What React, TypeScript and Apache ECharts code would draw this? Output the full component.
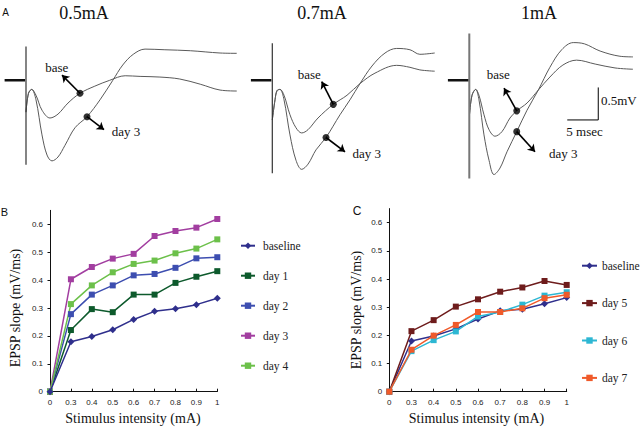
import React, { useEffect, useRef } from "react";
import * as echarts from "echarts";

// ---- Panel B / C data ----
const intensities = ["0", "0.3", "0.4", "0.5", "0.6", "0.7", "0.8", "0.9", "1"];
const baselineB = [0, 0.179, 0.198, 0.222, 0.259, 0.288, 0.297, 0.312, 0.335];
const day1 = [0, 0.221, 0.296, 0.285, 0.348, 0.348, 0.39, 0.412, 0.432];
const day2 = [0, 0.278, 0.348, 0.381, 0.417, 0.422, 0.444, 0.478, 0.482];
const day3 = [0, 0.403, 0.447, 0.477, 0.494, 0.558, 0.576, 0.588, 0.619];
const day4 = [0, 0.314, 0.381, 0.428, 0.458, 0.47, 0.496, 0.513, 0.546];
const baselineC = [0, 0.18, 0.198, 0.223, 0.258, 0.287, 0.293, 0.312, 0.334];
const day5 = [0, 0.215, 0.254, 0.302, 0.328, 0.355, 0.37, 0.393, 0.379];
const day6 = [0, 0.144, 0.183, 0.214, 0.267, 0.283, 0.309, 0.341, 0.353];
const day7 = [0, 0.149, 0.199, 0.237, 0.283, 0.283, 0.296, 0.332, 0.344];

// ---- Panel A traces: [time (ms), voltage (mV)] ----
const base05 = [[0, -0.49], [0.4, -0.2], [0.92, -0.14], [1.61, -0.23], [2.58, -0.46], [3.87, -0.58], [5.16, -0.52], [6.77, -0.35], [8.71, -0.2], [11.1, -0.09], [13.5, 0], [16.0, 0.07], [18.4, 0.06], [21.6, 0.05], [24.8, 0.02], [28.1, -0.06], [31.3, -0.15], [34.0, -0.165]];
const day3_05 = [[0, -0.49], [0.4, -0.2], [0.92, -0.14], [1.61, -0.3], [2.58, -0.84], [3.39, -1.15], [4.19, -1.24], [5.16, -1.18], [6.29, -1.0], [7.9, -0.73], [9.84, -0.56], [11.94, -0.3], [14.0, 0], [15.6, 0.235], [17.3, 0.4], [19.2, 0.48], [22.4, 0.47], [26.5, 0.455], [31.3, 0.42], [34.0, 0.415]];
const base07 = [[0, -0.61], [0.44, -0.3], [0.76, -0.16], [1.24, -0.14], [1.89, -0.23], [2.85, -0.53], [3.82, -0.73], [4.74, -0.81], [5.76, -0.76], [7.37, -0.58], [9.84, -0.37], [12.05, -0.23], [14.15, -0.05], [16.56, 0.11], [20.06, 0.23], [22.2, 0.2], [23.8, 0.16], [26.2, 0.14]];
const day3_07 = [[0, -0.61], [0.44, -0.3], [0.76, -0.16], [1.24, -0.14], [1.89, -0.3], [2.85, -0.84], [3.82, -1.23], [4.74, -1.37], [5.76, -1.29], [7.05, -1.07], [8.66, -0.88], [10.92, -0.53], [12.53, -0.3], [14.15, -0.05], [16.08, 0.22], [18.18, 0.42], [20.06, 0.49], [22.2, 0.47], [23.8, 0.4], [26.2, 0.42]];
const base1 = [[0.03, -0.53], [0.44, -0.23], [1.03, -0.14], [1.56, -0.23], [2.37, -0.53], [3.18, -0.76], [4.15, -0.86], [5.27, -0.79], [6.56, -0.58], [7.65, -0.47], [9.31, -0.35], [11.13, -0.15], [13.0, 0.05], [15.1, 0.235], [17.3, 0.31], [20.3, 0.25], [23.5, 0.19], [26.4, 0.17]];
const day3_1 = [[0.03, -0.53], [0.44, -0.23], [1.03, -0.14], [1.56, -0.3], [2.37, -0.84], [3.18, -1.23], [3.98, -1.45], [4.95, -1.35], [6.08, -1.1], [7.65, -0.79], [9.31, -0.46], [11.13, -0.15], [13.0, 0.2], [14.9, 0.47], [16.76, 0.58], [18.6, 0.56], [21.1, 0.45], [24.3, 0.37], [26.4, 0.36]];

// stimulus artifact [top mV, bottom mV] per panel; baseline marker [from ms, to ms]
const artifacts = [[0.52, -1.3], [0.57, -1.43], [0.72, -1.51]];
const baseMarker = [-3.45, -0.15];
// measurement dots [base dot, day3 dot] and arrow tips [base tip, day3 tip]
const dots05 = [[8.71, -0.2], [9.84, -0.56]];
const tips05 = [[5.81, 0.08], [12.58, -0.76]];
const dots07 = [[9.84, -0.37], [8.66, -0.88]];
const tips07 = [[7.97, -0.02], [11.73, -1.1]];
const dots1 = [[7.65, -0.47], [7.65, -0.79]];
const tips1 = [[5.6, -0.12], [10.6, -1.1]];
// scale bar: 5 ms x 0.5 mV
const scaleBar = [[15.8, -0.61], [20.8, -0.61], [20.8, -0.11]];

const COLORS = {
  baseline: "#2f2f8c",
  day1: "#0d5a2c",
  day2: "#3d4eb0",
  day3: "#a23ea0",
  day4: "#6cc04a",
  day5: "#6e1c1c",
  day6: "#2db7d3",
  day7: "#f05a2a",
};

const PX_PER_MS = 6.2;
const PX_PER_MV = 65;
const V_MIN = -1.6;
const V_MAX = 0.9;
const T_MIN = -4;

function App() {
  const ref = useRef<HTMLDivElement>(null);
  useEffect(() => {
    if (!ref.current) return;
    const chart = echarts.init(ref.current, null, { renderer: "svg" });

    const serif = "Liberation Serif";
    const sans = "Liberation Sans";

    const traceOrigins = [26, 272.3, 469.3];
    const traceMax = [36, 28, 27];
    const traceGrids = traceOrigins.map((x0, i) => ({
      left: x0 + T_MIN * PX_PER_MS,
      top: 80.3 - V_MAX * PX_PER_MV,
      width: (traceMax[i] - T_MIN) * PX_PER_MS,
      height: (V_MAX - V_MIN) * PX_PER_MV,
    }));

    const labelStyle = { color: "#222", fontFamily: sans, fontSize: 8, margin: 7 };
    const xAxisCommon = {
      type: "category",
      data: intensities,
      boundaryGap: false,
      axisLine: { show: true, lineStyle: { color: "#111", width: 1 } },
      axisTick: { show: true, inside: true, length: 3, lineStyle: { color: "#111" } },
      splitLine: { show: false },
      axisLabel: labelStyle,
    };
    const yAxisCommon = {
      type: "value",
      min: 0,
      max: 0.65,
      interval: 0.1,
      axisLine: { show: true, lineStyle: { color: "#111", width: 1 } },
      axisTick: { show: true, length: 2.5, lineStyle: { color: "#111" } },
      splitLine: { show: false },
      axisLabel: { ...labelStyle, showMaxLabel: false },
    };

    const mkLine = (name: string, data: number[], color: string, symbol: string, xi: number, z = 2) => ({
      name,
      type: "line",
      xAxisIndex: xi,
      yAxisIndex: xi,
      data,
      color,
      symbol,
      symbolSize: symbol === "diamond" ? 7 : 6,
      lineStyle: { color, width: 1.5 },
      itemStyle: { color },
      z,
    });

    const traceSeries: any[] = [];
    const traces = [
      [base05, day3_05],
      [base07, day3_07],
      [base1, day3_1],
    ];
    const dotsAll = [dots05, dots07, dots1];
    const tipsAll = [tips05, tips07, tips1];
    traces.forEach((pair, i) => {
      const ax = i + 2;
      pair.forEach((d) => {
        traceSeries.push({
          type: "line",
          xAxisIndex: ax,
          yAxisIndex: ax,
          data: d,
          smooth: 0.35,
          symbol: "none",
          lineStyle: { color: "#5a5a5a", width: 1 },
          silent: true,
        });
      });
      traceSeries.push({
        type: "line",
        xAxisIndex: ax,
        yAxisIndex: ax,
        data: [[0, artifacts[i][0]], [0, artifacts[i][1]]],
        symbol: "none",
        lineStyle: { color: i === 2 ? "#777" : "#333", width: i === 2 ? 2 : 1.2 },
      });
      traceSeries.push({
        type: "line",
        xAxisIndex: ax,
        yAxisIndex: ax,
        data: [[baseMarker[0], 0], [baseMarker[1], 0]],
        symbol: "none",
        lineStyle: { color: "#111", width: 2.5 },
      });
      traceSeries.push({
        type: "lines",
        coordinateSystem: "cartesian2d",
        xAxisIndex: ax,
        yAxisIndex: ax,
        data: dotsAll[i].map((d, k) => ({ coords: [d, tipsAll[i][k]] })),
        symbol: ["none", "arrow"],
        symbolSize: 7,
        lineStyle: { color: "#000", width: 1.6, opacity: 1 },
        z: 5,
      });
      traceSeries.push({
        type: "scatter",
        xAxisIndex: ax,
        yAxisIndex: ax,
        data: dotsAll[i],
        symbol: "circle",
        symbolSize: 7,
        itemStyle: { color: "#000" },
        z: 6,
      });
    });
    traceSeries.push({
      type: "line",
      xAxisIndex: 4,
      yAxisIndex: 4,
      data: scaleBar,
      symbol: "none",
      lineStyle: { color: "#000", width: 1 },
    });

    const txt = (text: string, x: number, y: number, size: number, font = serif, align = "center", rotation = 0) => ({
      type: "text",
      x,
      y,
      rotation,
      style: {
        text,
        font: `${size}px "${font}"`,
        fill: "#111",
        align,
        verticalAlign: "middle",
      },
    });

    const legendText = { fontFamily: serif, fontSize: 11.5, color: "#222", lineHeight: 14 };

    const option: any = {
      animation: false,
      backgroundColor: "#fff",
      grid: [
        { left: 50, top: 391.7 - 0.65 * 279, width: 167.3, height: 0.65 * 279 },
        { left: 389.3, top: 391.7 - 0.65 * 281.7, width: 177.4, height: 0.65 * 281.7 },
        ...traceGrids,
      ],
      xAxis: [
        { ...xAxisCommon, gridIndex: 0 },
        { ...xAxisCommon, gridIndex: 1 },
        ...traceGrids.map((_, i) => ({ gridIndex: i + 2, type: "value", min: T_MIN, max: traceMax[i], show: false })),
      ],
      yAxis: [
        { ...yAxisCommon, gridIndex: 0 },
        { ...yAxisCommon, gridIndex: 1 },
        ...traceGrids.map((_, i) => ({ gridIndex: i + 2, type: "value", min: V_MIN, max: V_MAX, show: false })),
      ],
      legend: [
        {
          orient: "vertical",
          left: 240,
          top: 238.7,
          padding: 0,
          itemWidth: 14,
          itemHeight: 8,
          itemGap: 16,
          data: ["baseline", "day 1", "day 2", "day 3", "day 4"],
          textStyle: { ...legendText, padding: [0, 0, 0, 3] },
          selectedMode: false,
        },
        {
          orient: "vertical",
          left: 581,
          top: 258.7,
          padding: 0,
          itemWidth: 15,
          itemHeight: 8,
          itemGap: 23.4,
          data: ["baseline", "day 5", "day 6", "day 7"],
          textStyle: { ...legendText },
          selectedMode: false,
        },
      ],
      series: [
        mkLine("baseline", baselineB, COLORS.baseline, "diamond", 0, 3),
        mkLine("day 1", day1, COLORS.day1, "rect", 0),
        mkLine("day 2", day2, COLORS.day2, "rect", 0),
        mkLine("day 3", day3, COLORS.day3, "rect", 0),
        mkLine("day 4", day4, COLORS.day4, "rect", 0),
        mkLine("baseline", baselineC, COLORS.baseline, "diamond", 1, 2),
        mkLine("day 5", day5, COLORS.day5, "rect", 1),
        mkLine("day 6", day6, COLORS.day6, "rect", 1),
        mkLine("day 7", day7, COLORS.day7, "rect", 1, 4),
        ...traceSeries,
      ],
      graphic: [
        txt("A", 5.5, 12.7, 10, sans),
        txt("B", 4.5, 211.5, 11, sans),
        txt("C", 357, 211, 12, sans),
        txt("0.5mA", 84, 13, 18),
        txt("0.7mA", 322, 13, 18),
        txt("1mA", 539, 13, 18),
        txt("base", 56.7, 67, 13),
        txt("day 3", 126, 131, 13),
        txt("base", 309.3, 74, 13),
        txt("day 3", 366.7, 153.3, 13),
        txt("base", 498.3, 74, 13),
        txt("day 3", 563.3, 153.3, 13),
        txt("0.5mV", 601, 100, 13, serif, "left"),
        txt("5 msec", 584.5, 131, 13),
        txt("EPSP slope (mV/ms)", 15, 308, 14, serif, "center", Math.PI / 2),
        txt("Stimulus intensity (mA)", 133, 418, 14),
        txt("EPSP slope (mV/ms)", 356.7, 310, 14, serif, "center", Math.PI / 2),
        txt("Stimulus intensity (mA)", 476.5, 418, 14),
      ],
    };

    chart.setOption(option);
    return () => chart.dispose();
  }, []);

  return (
    <div
      ref={ref}
      style={{ position: "fixed", left: 0, top: 0, width: 640, height: 438, background: "#fff" }}
    />
  );
}

export default App;
